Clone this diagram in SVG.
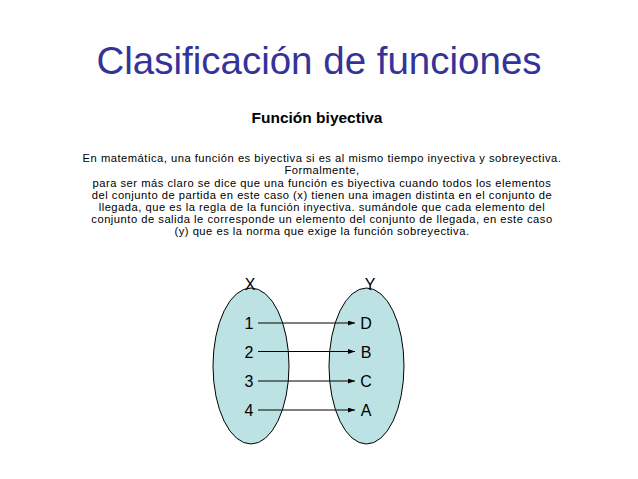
<svg xmlns="http://www.w3.org/2000/svg" width="638" height="479" viewBox="0 0 638 479">
<style>
text{font-family:"Liberation Sans",Arial,sans-serif;fill:#000;text-anchor:middle}
.title{font-size:38.5px;fill:#333399}
.sub{font-size:15.5px;font-weight:bold}
.p{font-size:11.2px;letter-spacing:0.5px}
.lbl{font-size:16px}
.set{fill:#bde2e4;stroke:#000;stroke-width:1}
.con line{stroke:#000;stroke-width:1;marker-end:url(#ah)}
</style>
<defs>
<marker id="ah" markerWidth="7" markerHeight="5" refX="7" refY="2.5" orient="auto" markerUnits="userSpaceOnUse">
<path d="M0,0 L7,2.5 L0,5 z" fill="#000"/>
</marker>
</defs>
<rect width="638" height="479" fill="#fff"/>
<text class="title" x="319" y="74">Clasificación de funciones</text>
<text class="sub" x="317" y="123">Función biyectiva</text>
<g class="p-block">
<text class="p" x="322" y="162">En matemática, una función es biyectiva si es al mismo tiempo inyectiva y sobreyectiva.</text>
<text class="p" x="322" y="174">Formalmente,</text>
<text class="p" x="322" y="187">para ser más claro se dice que una función es biyectiva cuando todos los elementos</text>
<text class="p" x="322" y="199">del conjunto de partida en este caso (x) tienen una imagen distinta en el conjunto de</text>
<text class="p" x="322" y="211">llegada, que es la regla de la función inyectiva. sumándole que cada elemento del</text>
<text class="p" x="322" y="223">conjunto de salida le corresponde un elemento del conjunto de llegada, en este caso</text>
<text class="p" x="322" y="235">(y) que es la norma que exige la función sobreyectiva.</text>
</g>
<g id="setX">
<ellipse class="set" cx="251" cy="366" rx="38" ry="78"/>
<text class="lbl" x="250" y="290">X</text>
<text class="lbl" x="249" y="329">1</text>
<text class="lbl" x="249" y="358">2</text>
<text class="lbl" x="249" y="387">3</text>
<text class="lbl" x="249" y="416">4</text>
</g>
<g id="setY">
<ellipse class="set" cx="366.5" cy="366" rx="37.5" ry="78"/>
<text class="lbl" x="370" y="290">Y</text>
<text class="lbl" x="366" y="329">D</text>
<text class="lbl" x="366" y="358">B</text>
<text class="lbl" x="366" y="387">C</text>
<text class="lbl" x="366" y="416">A</text>
</g>
<g class="con" id="connectors">
<line x1="258" y1="323" x2="355" y2="323"/>
<line x1="258" y1="351.5" x2="355" y2="351.5"/>
<line x1="258" y1="381" x2="355" y2="381"/>
<line x1="258" y1="410" x2="355" y2="410"/>
</g>
</svg>
